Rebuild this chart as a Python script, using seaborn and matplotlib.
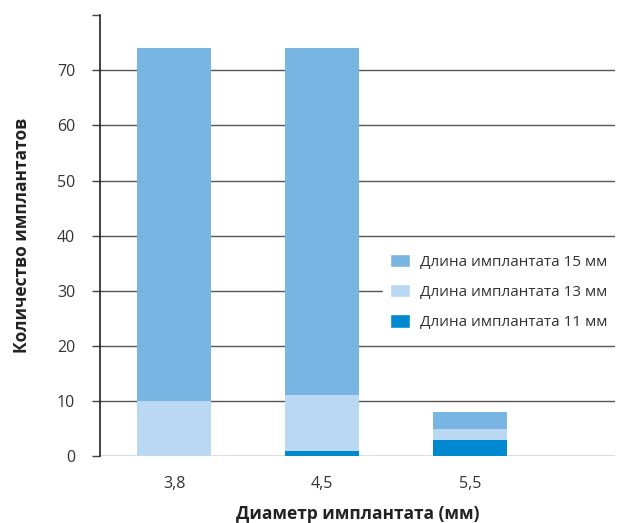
import numpy as np
import pandas as pd
import matplotlib
matplotlib.use("Agg")
import matplotlib.pyplot as plt
import seaborn as sns
from matplotlib.patches import Patch

diameters = ["3,8", "4,5", "5,5"]
len_11 = [0, 1, 3]
len_13 = [10, 10, 2]
len_15 = [64, 63, 3]

labels = ["Длина имплантата 15 мм", "Длина имплантата 13 мм", "Длина имплантата 11 мм"]
colors = ["#79b5e3", "#bad8f1", "#0088d0"]

sns.set_theme(style="white")
plt.rcParams["font.family"] = ["Open Sans", "DejaVu Sans"]

df = pd.DataFrame({"d": diameters, "l11": len_11, "l13": len_13, "l15": len_15})
df["s13"] = df["l11"] + df["l13"]
df["s15"] = df["s13"] + df["l15"]

fig = plt.figure(figsize=(6.22, 5.23), dpi=100)
ax = fig.add_axes([0.161, 0.128, 0.828, 0.843])

# stacked by overlaying cumulative totals
for col, c in zip(["s15", "s13", "l11"], colors):
    sns.barplot(data=df, x="d", y=col, color=c, width=0.5, saturation=1,
                ax=ax, zorder=3, linewidth=0)

ax.set_xlim(-0.5, 2.98)
ax.set_ylim(0, 80)
ax.set_yticks(np.arange(0, 80, 10))
ax.set_yticks([80], minor=True)
ax.yaxis.grid(True, which="major", color="#555555", linewidth=1, zorder=0)
ax.set_axisbelow(True)

for s in ["top", "right", "bottom"]:
    ax.spines[s].set_visible(False)
ax.spines["left"].set_color("#222222")
ax.spines["left"].set_linewidth(1.2)

ax.tick_params(axis="y", which="both", left=True, length=6, width=1,
               color="#444444", labelsize=11.5, labelcolor="#333333", pad=12)
ax.tick_params(axis="x", bottom=False, labelsize=11.5, labelcolor="#333333", pad=8)

ax.set_xlabel("Диаметр имплантата (мм)", fontsize=12.5, fontweight="bold",
              color="#222222", labelpad=10)
ax.set_ylabel("Количество имплантатов", fontsize=12.5, fontweight="bold",
              color="#222222", labelpad=19)

handles = [Patch(facecolor=c, label=l) for c, l in zip(colors, labels)]
ax.legend(handles=handles, loc="center left", bbox_to_anchor=(0.535, 0.372),
          frameon=True, facecolor="white", edgecolor="white", framealpha=1,
          fontsize=11, labelcolor="#333333", handlelength=1.3, handleheight=0.95,
          labelspacing=0.95, handletextpad=0.65, borderpad=0.45)

fig.savefig("out.png", dpi=100)
